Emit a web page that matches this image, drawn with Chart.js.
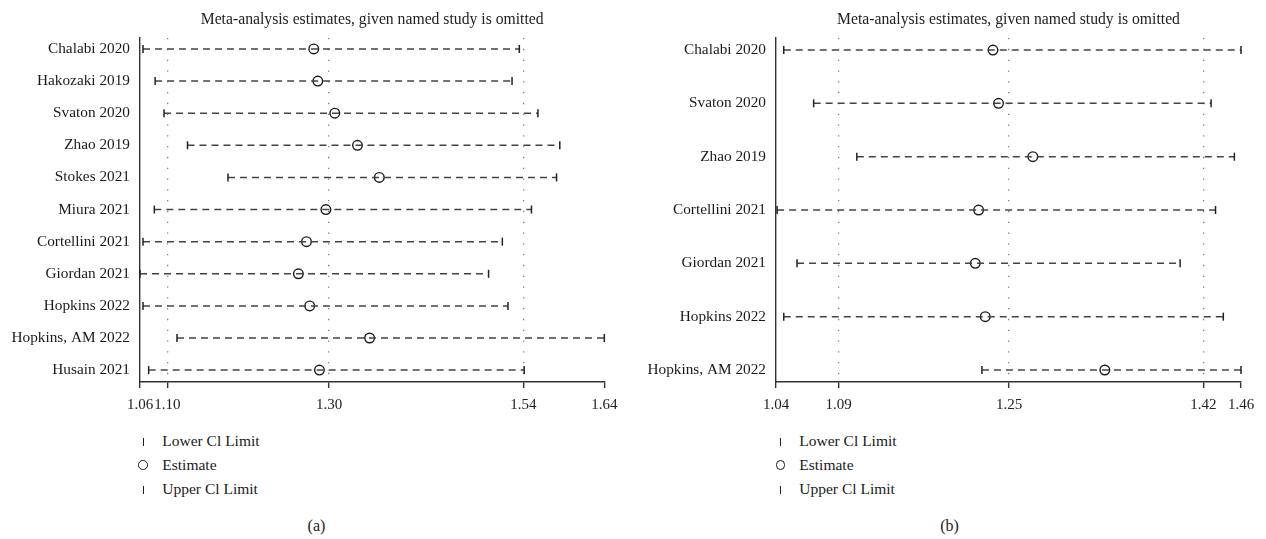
<!DOCTYPE html>
<html>
<head>
<meta charset="utf-8">
<script src="https://cdn.jsdelivr.net/npm/chart.js@4.4.1/dist/chart.umd.min.js"></script>
<style>
  html, body { margin: 0; padding: 0; background: #fff; }
  body { width: 1266px; height: 539px; position: relative; overflow: hidden;
         font-family: 'Liberation Serif', 'Times New Roman', serif; color: #1a1a1a; }
  .panel { position: absolute; top: 0; width: 633px; height: 539px; }
  .panel canvas { position: absolute; left: 0; top: 0; }
  .legend { position: absolute; top: 430px; font-size: 15.5px; }
  .legend .row { position: relative; height: 24px; line-height: 22px; white-space: nowrap; }
  .legend .sym { position: absolute; top: 0; height: 22px; width: 12px; }
  .legend .bar { position: absolute; left: 5.3px; top: 8px; width: 1.5px; height: 7.5px; background: #222; }
  .legend .ring { position: absolute; left: 1px; top: 6.3px; width: 7.6px; height: 7.6px;
                  border: 1.4px solid #1a1a1a; border-radius: 50%; }
  .legend .txt { position: absolute; top: 0; }
  .cap { position: absolute; left: 0; width: 633px; top: 515px; text-align: center; font-size: 16px; line-height: 22px; }
</style>
</head>
<body>

<div class="panel" style="left:0">
  <canvas id="chartA" width="633" height="420"></canvas>
  <div class="legend" id="legendA" style="left:0"></div>
  <div class="cap">(a)</div>
</div>

<div class="panel" style="left:633px">
  <canvas id="chartB" width="633" height="420"></canvas>
  <div class="legend" id="legendB" style="left:0"></div>
  <div class="cap">(b)</div>
</div>

<script>
// Panel (a): influence analysis, 11 studies
const studiesA = ['Chalabi 2020', 'Hakozaki 2019', 'Svaton 2020', 'Zhao 2019', 'Stokes 2021',
  'Miura 2021', 'Cortellini 2021', 'Giordan 2021', 'Hopkins 2022', 'Hopkins, AM 2022', 'Husain 2021'];
const lowerA = [1.070, 1.085, 1.096, 1.125, 1.175, 1.084, 1.070, 1.0663, 1.070, 1.112, 1.077];
const estA   = [1.281, 1.286, 1.307, 1.335, 1.362, 1.296, 1.272, 1.262, 1.276, 1.350, 1.288];
const upperA = [1.535, 1.526, 1.558, 1.585, 1.581, 1.550, 1.514, 1.497, 1.521, 1.640, 1.541];
const tickValsA   = [1.0663, 1.10, 1.30, 1.54, 1.64];
const tickLabelsA = ['1.06', '1.10', '1.30', '1.54', '1.64'];
const refLinesA   = [1.10, 1.30, 1.54];

// Panel (b): influence analysis, 7 studies
const studiesB = ['Chalabi 2020', 'Svaton 2020', 'Zhao 2019', 'Cortellini 2021', 'Giordan 2021',
  'Hopkins 2022', 'Hopkins, AM 2022'];
const lowerB = [1.047, 1.074, 1.113, 1.041, 1.059, 1.047, 1.226];
const estB   = [1.236, 1.241, 1.272, 1.223, 1.220, 1.229, 1.337];
const upperB = [1.460, 1.433, 1.454, 1.437, 1.405, 1.444, 1.460];
const tickValsB   = [1.04, 1.0966, 1.2505, 1.426, 1.46];
const tickLabelsB = ['1.04', '1.09', '1.25', '1.42', '1.46'];
const refLinesB   = [1.0966, 1.2505, 1.426];

const legendItems = ['Lower Cl Limit', 'Estimate', 'Upper Cl Limit'];
const titleText = 'Meta-analysis estimates, given named study is omitted';

const FONT = "'Liberation Serif', 'Times New Roman', serif";

function buildChart(id, cfg) {
  const datasets = cfg.studies.map((name, i) => ({
    type: 'line',
    label: name,
    data: [{ x: cfg.lower[i], y: i }, { x: cfg.upper[i], y: i }],
    borderColor: '#444',
    borderWidth: 1.5,
    borderDash: [7, 5],
    pointStyle: 'line',
    rotation: 90,
    pointRadius: 4,
    pointBorderColor: '#222',
    pointBorderWidth: 1.5,
    clip: false
  }));
  datasets.push({
    type: 'scatter',
    label: 'Estimate',
    data: cfg.est.map((v, i) => ({ x: v, y: i })),
    pointStyle: 'circle',
    pointRadius: 4.8,
    pointBorderColor: '#1a1a1a',
    pointBackgroundColor: 'rgba(0,0,0,0)',
    pointBorderWidth: 1.4,
    clip: false
  });

  return new Chart(document.getElementById(id), {
    type: 'line',
    data: { datasets },
    options: {
      responsive: false,
      animation: false,
      devicePixelRatio: 1,
      layout: { padding: { left: 0, right: cfg.padRight, top: 0, bottom: 0 } },
      plugins: {
        legend: { display: false },
        tooltip: { enabled: false },
        title: {
          display: true,
          text: titleText,
          fullSize: false,
          color: '#222',
          font: { family: FONT, size: 15.7, weight: 'normal' },
          padding: { top: 10, bottom: 9.2 }
        }
      },
      scales: {
        x: {
          type: 'linear',
          min: cfg.tickVals[0],
          max: cfg.tickVals[cfg.tickVals.length - 1],
          afterBuildTicks: s => { s.ticks = cfg.tickVals.map(v => ({ value: v })); },
          afterFit: s => { s.height = 420 - 382; },
          ticks: {
            autoSkip: false,
            maxRotation: 0,
            minRotation: 0,
            padding: 8,
            color: '#222',
            font: { family: FONT, size: 15 },
            callback: (v, idx) => cfg.tickLabels[idx]
          },
          grid: {
            display: true,
            drawOnChartArea: true,
            lineWidth: 1.3,
            color: c => (c.tick && cfg.refLines.includes(c.tick.value)) ? '#808080' : 'rgba(0,0,0,0)',
            tickColor: '#333',
            tickLength: 6,
            tickWidth: 1.4
          },
          border: { display: true, color: '#333', width: 1.4, dash: [1.3, 9.5] }
        },
        y: {
          type: 'linear',
          reverse: true,
          min: cfg.yMin,
          max: cfg.yMax,
          afterBuildTicks: s => { s.ticks = cfg.studies.map((_, i) => ({ value: i })); },
          afterFit: s => { s.width = cfg.axisLeft; },
          ticks: {
            autoSkip: false,
            padding: 10,
            color: '#1a1a1a',
            font: { family: FONT, size: 15.3 },
            callback: v => cfg.studies[v]
          },
          grid: { display: false, drawTicks: false },
          border: { display: true, color: '#333', width: 1.4 }
        }
      }
    }
  });
}

buildChart('chartA', {
  studies: studiesA, lower: lowerA, est: estA, upper: upperA,
  tickVals: tickValsA, tickLabels: tickLabelsA, refLines: refLinesA,
  yMin: -0.34, yMax: 10.37, axisLeft: 140, padRight: 28.7
});
buildChart('chartB', {
  studies: studiesB, lower: lowerB, est: estB, upper: upperB,
  tickVals: tickValsB, tickLabels: tickLabelsB, refLines: refLinesB,
  yMin: -0.225, yMax: 6.225, axisLeft: 143, padRight: 25
});

// Key below each panel
function buildLegend(id, symX, txtX) {
  const box = document.getElementById(id);
  legendItems.forEach((label, i) => {
    const row = document.createElement('div');
    row.className = 'row';
    const sym = document.createElement('div');
    sym.className = 'sym';
    sym.style.left = (symX - 6) + 'px';
    const mark = document.createElement('div');
    mark.className = i === 1 ? 'ring' : 'bar';
    sym.appendChild(mark);
    const txt = document.createElement('div');
    txt.className = 'txt';
    txt.style.left = txtX + 'px';
    txt.textContent = label;
    row.appendChild(sym);
    row.appendChild(txt);
    box.appendChild(row);
  });
}
buildLegend('legendA', 143.3, 162.3);
buildLegend('legendB', 147.7, 166.3);
</script>
</body>
</html>
